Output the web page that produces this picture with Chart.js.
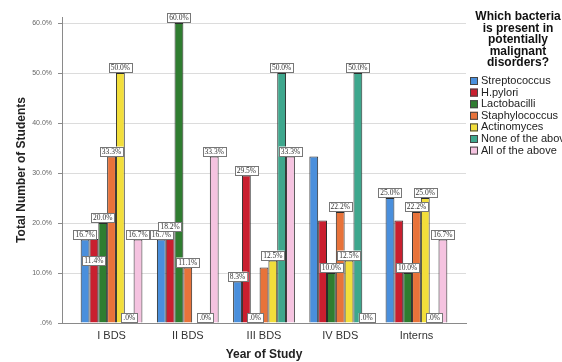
<!DOCTYPE html>
<html>
<head>
<meta charset="utf-8">
<title>Which bacteria is present in potentially malignant disorders?</title>
<script src="https://cdn.jsdelivr.net/npm/chart.js@4.4.1/dist/chart.umd.min.js"></script>
<style>
  html, body { margin: 0; padding: 0; background: #fff; }
  #wrap { width: 562px; height: 362px; }
</style>
</head>
<body>
<div id="wrap"><canvas id="chart" width="562" height="362"></canvas></div>
<script>
// Categories and axis
const years = ['I BDS', 'II BDS', 'III BDS', 'IV BDS', 'Interns'];
const legendTitle = ['Which bacteria', 'is present in', 'potentially', 'malignant', 'disorders?'];

// Bar heights (%) as drawn, null = no bar
const streptococcus  = [16.7, 16.7, 8.3, 33.3, 25.0];
const hPylori        = [16.8, 18.2, 29.5, 20.5, 20.5];
const lactobacilli   = [20.0, 60.0, 0, 10.0, 10.0];
const staphylococcus = [33.3, 11.1, 11.1, 22.2, 22.2];
const actinomyces    = [50.0, null, 12.5, 12.5, 25.0];
const noneOfAbove    = [0, 0, 50.0, 50.0, 0];
const allOfAbove     = [16.7, 33.3, 33.3, 0, 16.7];

// Printed value labels, null = no label visible
const streptococcusLbl  = [16.7, 16.7, 8.3, null, 25.0];
const hPyloriLbl        = [11.4, 18.2, 29.5, null, null];
const lactobacilliLbl   = [20.0, 60.0, 0, 10.0, 10.0];
const staphylococcusLbl = [33.3, 11.1, null, 22.2, 22.2];
const actinomycesLbl    = [50.0, null, 12.5, 12.5, 25.0];
const noneOfAboveLbl    = [0, 0, 50.0, 50.0, 0];
const allOfAboveLbl     = [16.7, 33.3, 33.3, 0, 16.7];

const fmtPct = v => (v === 0 ? '.0%' : v.toFixed(1) + '%');

function series(label, values, printed, color) {
    return {
        label: label,
        data: values.map((v, i) => ({ x: i, y: v })),
        printed: printed,
        backgroundColor: color,
        borderColor: '#2b2b2b',
        borderWidth: 1
    };
}

// value boxes above the bars
const valueLabels = {
    id: 'valueLabels',
    afterDatasetsDraw(chart) {
        const ctx = chart.ctx;
        const yScale = chart.scales.y;
        ctx.save();
        ctx.font = '7.5px "Liberation Serif"';
        ctx.textAlign = 'center';
        ctx.textBaseline = 'middle';
        chart.data.datasets.forEach((ds, d) => {
            const meta = chart.getDatasetMeta(d);
            ds.printed.forEach((v, i) => {
                if (v === null) return;
                const bar = meta.data[i];
                const y = yScale.getPixelForValue(v);
                const w = ctx.measureText(fmtPct(v)).width + 4;
                ctx.fillStyle = '#fff';
                ctx.strokeStyle = '#777';
                ctx.lineWidth = 1;
                ctx.fillRect(bar.x - w / 2, y - 10, w, 10);
                ctx.strokeRect(Math.round(bar.x - w / 2) + 0.5, Math.round(y - 10) + 0.5, Math.round(w), 9);
                ctx.fillStyle = '#333';
                ctx.fillText(fmtPct(v), bar.x, y - 4.5);
            });
        });
        ctx.restore();
    }
};

// legend on the right with a wrapped bold title
const sideLegend = {
    id: 'sideLegend',
    afterDraw(chart) {
        const ctx = chart.ctx;
        ctx.save();
        ctx.fillStyle = '#111';
        ctx.font = 'bold 12px "Liberation Sans"';
        ctx.textAlign = 'center';
        ctx.textBaseline = 'middle';
        legendTitle.forEach((t, i) => ctx.fillText(t, 518, 17 + i * 11.5));
        ctx.font = '11px "Liberation Sans"';
        ctx.textAlign = 'left';
        chart.data.datasets.forEach((ds, i) => {
            const y = 81 + i * 11.6;
            ctx.fillStyle = ds.backgroundColor;
            ctx.fillRect(470, y - 4, 8, 8);
            ctx.strokeStyle = '#444';
            ctx.lineWidth = 1;
            ctx.strokeRect(470.5, y - 3.5, 7, 7);
            ctx.fillStyle = '#222';
            ctx.fillText(ds.label, 481, y);
        });
        ctx.restore();
    }
};

new Chart(document.getElementById('chart'), {
    type: 'bar',
    data: {
        datasets: [
            series('Streptococcus', streptococcus, streptococcusLbl, '#4a8fdc'),
            series('H.pylori', hPylori, hPyloriLbl, '#c91f2f'),
            series('Lactobacilli', lactobacilli, lactobacilliLbl, '#2f7d30'),
            series('Staphylococcus', staphylococcus, staphylococcusLbl, '#e8733a'),
            series('Actinomyces', actinomyces, actinomycesLbl, '#f2de3b'),
            series('None of the above', noneOfAbove, noneOfAboveLbl, '#3ea78d'),
            series('All of the above', allOfAbove, allOfAboveLbl, '#f5c3e0')
        ]
    },
    options: {
        responsive: false,
        animation: false,
        layout: { padding: { top: 17, right: 96, bottom: 0, left: 0 } },
        datasets: { bar: { categoryPercentage: 0.81, barPercentage: 1.0 } },
        plugins: {
            legend: { display: false },
            tooltip: { enabled: false }
        },
        scales: {
            x: {
                type: 'linear',
                offset: false,
                min: -0.65,
                max: 4.65,
                afterFit(scale) { scale.height = 39; },
                grid: { display: false, drawTicks: false, offset: false },
                border: { display: true, color: '#8a8a8a' },
                ticks: {
                    stepSize: 1,
                    includeBounds: false,
                    padding: 6,
                    maxRotation: 0,
                    autoSkip: false,
                    color: '#333',
                    font: { family: 'Liberation Sans', size: 11 },
                    callback: v => (Number.isInteger(v) ? years[v] : '')
                },
                title: {
                    display: true,
                    text: 'Year of Study',
                    color: '#222',
                    font: { family: 'Liberation Sans', size: 12, weight: 'bold' },
                    padding: { top: 0, bottom: 0 }
                }
            },
            y: {
                min: 0,
                max: 61.2,
                afterFit(scale) { scale.width = 62; },
                grid: { color: '#dcdcdc', tickColor: '#8a8a8a', tickLength: 4 },
                border: { display: true, color: '#8a8a8a' },
                ticks: {
                    stepSize: 10,
                    includeBounds: false,
                    padding: 6,
                    color: '#666',
                    font: { family: 'Liberation Sans', size: 7 },
                    callback: v => fmtPct(v)
                },
                title: {
                    display: true,
                    text: 'Total Number of Students',
                    color: '#222',
                    font: { family: 'Liberation Sans', size: 12, weight: 'bold' },
                    padding: { top: 14, bottom: 0 }
                }
            }
        }
    },
    plugins: [valueLabels, sideLegend]
});
</script>
</body>
</html>
